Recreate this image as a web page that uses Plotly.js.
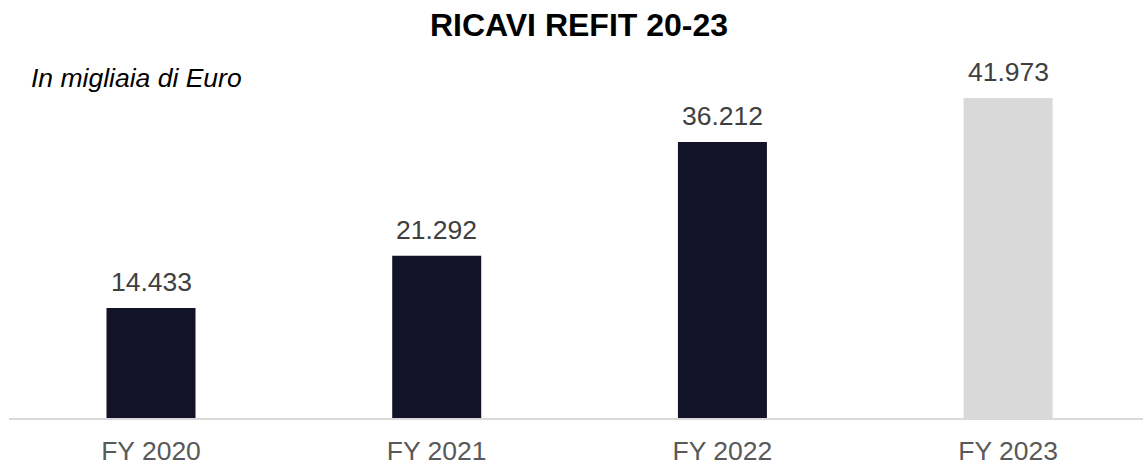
<!DOCTYPE html>
<html>
<head>
<meta charset="utf-8">
<script src="https://cdn.plot.ly/plotly-3.0.1.min.js"></script>
<style>
html,body{margin:0;padding:0;background:#fff;}
#chart{width:1143px;height:466px;}
</style>
</head>
<body>
<div id="chart"></div>
<script>
const categories = ["FY 2020", "FY 2021", "FY 2022", "FY 2023"];
const revenues = [14433, 21292, 36212, 41973];
const barColors = ["#121229", "#121229", "#121229", "#d9d9d9"];
const chartTitle = "RICAVI REFIT 20-23";
const subtitle = "In migliaia di Euro";

function fmt(v) {
  return String(v).replace(/\B(?=(\d{3})+(?!\d))/g, ".");
}

const FONT = "Liberation Sans, Arial, sans-serif";
const ml = 9, mr = 0, mt = 60, mb = 48;
const W = 1143, H = 466;
const pw = W - ml - mr, ph = H - mt - mb;

const trace = {
  type: "bar",
  x: categories,
  y: revenues,
  marker: {color: barColors, line: {width: 0}},
  hoverinfo: "none"
};

const annotations = categories.map((c, i) => ({
  x: c, y: revenues[i], xref: "x", yref: "y",
  text: fmt(revenues[i]),
  showarrow: false, yanchor: "bottom", xanchor: "center",
  yshift: 9,
  font: {family: FONT, size: 26.5, color: "#404040"}
}));
annotations.push({
  x: (29 - ml) / pw, xref: "paper", xanchor: "left",
  y: 1 + (mt - 78) / ph, yref: "paper", yanchor: "middle",
  text: "<i>" + subtitle + "</i>", showarrow: false,
  font: {family: FONT, size: 26.5, color: "#000000"}
});

const pxPerUnit = 320 / 41973;

const layout = {
  width: W, height: H,
  margin: {l: ml, r: mr, t: mt, b: mb, pad: 0},
  paper_bgcolor: "#ffffff", plot_bgcolor: "#ffffff",
  showlegend: false,
  bargap: 0.6885,
  title: {
    text: "<b>" + chartTitle + "</b>",
    x: 579 / W, xanchor: "center", xref: "container",
    y: 1 - 25 / H, yanchor: "middle", yref: "container",
    font: {family: FONT, size: 32, color: "#000000"}
  },
  xaxis: {
    type: "category",
    range: [-0.497, 3.472],
    showline: true, linecolor: "#d9d9d9", linewidth: 2,
    showgrid: false, zeroline: false, ticks: "",
    ticklabelstandoff: 8,
    tickfont: {family: FONT, size: 26.5, color: "#595959"},
    fixedrange: true
  },
  yaxis: {
    range: [0, ph / pxPerUnit],
    visible: false, showgrid: false, zeroline: false,
    fixedrange: true
  },
  annotations: annotations
};

Plotly.newPlot("chart", [trace], layout, {displayModeBar: false, staticPlot: true});
</script>
</body>
</html>
